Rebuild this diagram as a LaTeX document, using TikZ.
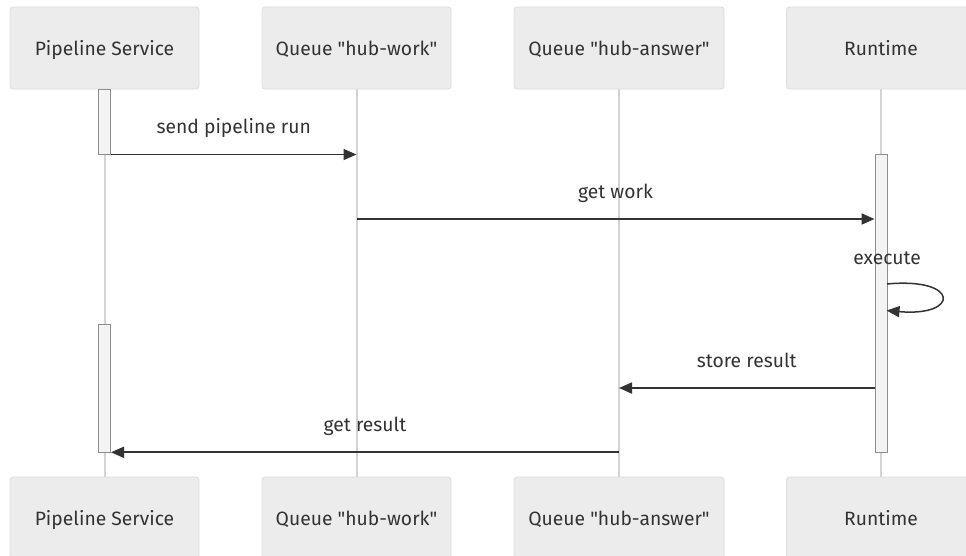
\documentclass[tikz,border=0pt]{standalone}
\usepackage{fontspec}
\setmainfont{Fira Sans}
\usetikzlibrary{arrows.meta}
\definecolor{actorfill}{HTML}{ECECEC}
\definecolor{actorline}{HTML}{DCDCDC}
\definecolor{ink}{HTML}{333333}
\definecolor{lifegray}{HTML}{D3D3D3}
\definecolor{barfill}{HTML}{F4F4F4}
\definecolor{barline}{HTML}{8E8E8E}
\newcommand{\dq}{\textquotedbl}
\tikzset{
  actor/.style={draw=actorline, fill=actorfill, rounded corners=3pt, line width=0.8pt,
    minimum height=82pt, text=ink, font=\fontsize{19.3}{22}\selectfont, inner sep=0pt,
    text height=16pt, text depth=2pt},
  lifeline/.style={draw=lifegray, line width=2pt},
  actbar/.style={draw=barline, fill=barfill, line width=1pt, minimum width=12pt, inner sep=0pt},
  msg/.style={draw=ink, line width=1.8pt, -{Triangle[length=13pt,width=11pt]}},
  lbl/.style={text=ink, font=\fontsize{19.3}{22}\selectfont, inner sep=0pt,
    text height=16pt, text depth=2pt}
}
\begin{document}
\begin{tikzpicture}[x=1pt,y=-1pt]
\clip (0,0) rectangle (966,555);
\fill[white] (0,0) rectangle (966,555);

% participants, top row
\node[actor, minimum width=189pt] (ps)  at (104.5,48) {Pipeline Service};
\node[actor, minimum width=189pt] (qw)  at (356.5,48) {Queue \dq hub-work\dq};
\node[actor, minimum width=210pt] (qa)  at (619,48)   {Queue \dq hub-answer\dq};
\node[actor, minimum width=189pt] (rt)  at (881,48)   {Runtime};
% participants, bottom row
\node[actor, minimum width=189pt] (psb) at (104.5,518) {Pipeline Service};
\node[actor, minimum width=189pt] (qwb) at (356.5,518) {Queue \dq hub-work\dq};
\node[actor, minimum width=210pt] (qab) at (619,518)   {Queue \dq hub-answer\dq};
\node[actor, minimum width=189pt] (rtb) at (881,518)   {Runtime};

% lifelines
\draw[lifeline] (ps.south) -- (psb.north);
\draw[lifeline] (qw.south) -- (qwb.north);
\draw[lifeline] (qa.south) -- (qab.north);
\draw[lifeline] (rt.south) -- (rtb.north);

% activation bars
\node[actbar, minimum height=65pt]  (psa1) at (104.5,121.5) {};
\node[actbar, minimum height=128pt] (psa2) at (104.5,388.3) {};
\node[actbar, minimum height=298pt] (rta)  at (881,303)     {};

% message levels
\coordinate (lv2) at (0,219);
\coordinate (lv4) at (0,388);
\coordinate (lv5) at (0,452.3);

% messages
\draw[msg] (psa1.south east) -- (psa1.south east -| qw.south)
  node[lbl, midway, yshift=28pt] {send pipeline run};
\draw[msg] (qw.south |- lv2) -- (rta.west |- lv2)
  node[lbl, midway, yshift=28pt] {get work};
\coordinate (ex0) at (887,284);
\coordinate (ex1) at (886.5,310.5);
\node[lbl] (exl) at (887,257) {execute};
\draw[msg, line width=1.5pt] (ex0) .. controls (960,277) and (960,317) .. (ex1);
\draw[msg] (rta.west |- lv4) -- (qa.south |- lv4)
  node[lbl, midway, yshift=28pt] {store result};
\draw[msg] (qa.south |- lv5) -- (psa2.east |- lv5)
  node[lbl, midway, yshift=28pt] {get result};
\end{tikzpicture}
\end{document}
